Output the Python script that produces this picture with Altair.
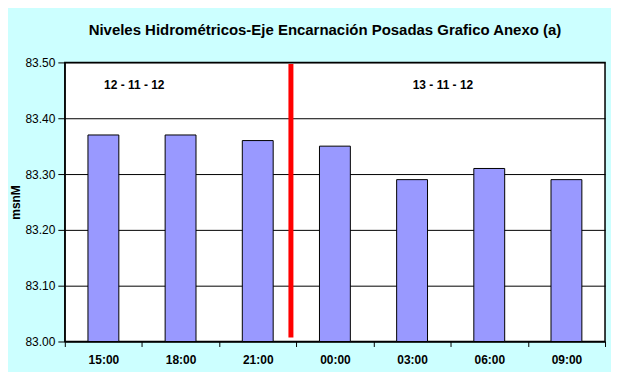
import altair as alt
import pandas as pd

times = ["15:00", "18:00", "21:00", "00:00", "03:00", "06:00", "09:00"]
levels = [83.37, 83.37, 83.36, 83.35, 83.29, 83.31, 83.29]
base_level = 83.0

date_labels = ["12 - 11 - 12", "13 - 11 - 12"]
date_cats = ["15:00", "03:00"]
date_level = [83.46, 83.46]

sep_cat = ["21:00"]
sep_top = [83.497]
sep_bottom = [83.007]

bars_df = pd.DataFrame({"hora": times, "nivel": levels, "base": [base_level] * len(times)})
dates_df = pd.DataFrame({"hora": date_cats, "nivel": date_level, "label": date_labels})
sep_df = pd.DataFrame({"hora": sep_cat, "top": sep_top, "bottom": sep_bottom})

xscale = alt.Scale(domain=times, paddingInner=0, paddingOuter=0)
yscale = alt.Scale(domain=[83.0, 83.5], nice=False, zero=False)

bars = alt.Chart(bars_df).mark_bar(
    width={"band": 0.4}, color="#9999FF", stroke="black", strokeWidth=1
).encode(
    x=alt.X("hora:N", scale=xscale, sort=times,
            axis=alt.Axis(title=None, labelAngle=0, tickBand="extent", tickSize=5,
                          labelPadding=8, labelFontSize=12, labelFontWeight="bold",
                          labelColor="black", tickColor="black", domainColor="black",
                          labelFont="Liberation Sans")),
    y=alt.Y("nivel:Q", scale=yscale,
            axis=alt.Axis(title="msnM", values=[83.0, 83.1, 83.2, 83.3, 83.4, 83.5],
                          format=".2f", tickSize=7, labelPadding=3, labelFontSize=12,
                          labelColor="black", tickColor="black", domainColor="black",
                          gridColor="black", gridWidth=1, grid=True,
                          titleFontSize=12, titleFontWeight="bold", titleColor="black",
                          titlePadding=2, labelFont="Liberation Sans",
                          titleFont="Liberation Sans")),
    y2="base:Q",
)

sep = alt.Chart(sep_df).mark_rule(color="#FF0000", strokeWidth=5).encode(
    x=alt.X("hora:N", scale=xscale, sort=times, bandPosition=0.93),
    y=alt.Y("top:Q", scale=yscale),
    y2="bottom:Q",
)

dates = alt.Chart(dates_df).mark_text(
    font="Liberation Sans", fontSize=12, fontWeight="bold", color="black", align="center",
    baseline="middle"
).encode(
    x=alt.X("hora:N", scale=xscale, sort=times, bandPosition=0.9),
    y=alt.Y("nivel:Q", scale=yscale),
    text="label:N",
)

chart = alt.layer(bars, sep, dates).properties(
    width=542, height=280,
    background="#CCFFFF",
    padding={"left": 57, "top": 54, "right": 6, "bottom": 30},
    autosize=alt.AutoSizeParams(type="none"),
    title=alt.TitleParams(
        "Niveles Hidrométricos-Eje Encarnación Posadas Grafico Anexo (a)",
        font="Liberation Sans", fontSize=15, fontWeight="bold", color="black",
        anchor="middle", dx=-10, offset=19,
    ),
).configure_view(
    fill="white", stroke="black", strokeWidth=1.5
)

chart.save("out.html", embed_options={"renderer": "svg", "actions": False})
